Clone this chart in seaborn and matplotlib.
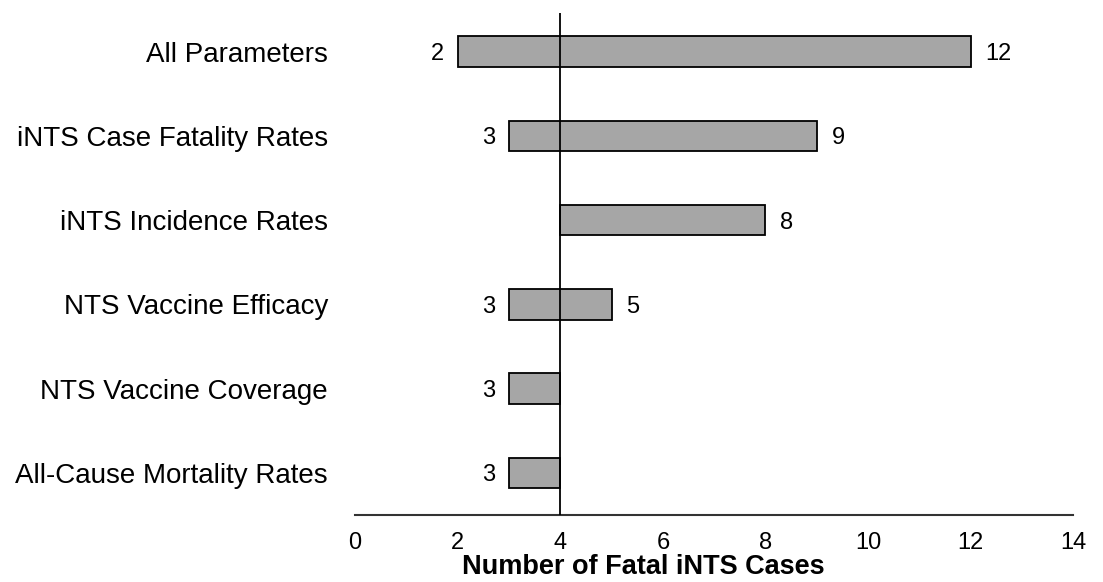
import numpy as np
import pandas as pd
import matplotlib
matplotlib.use("Agg")
import matplotlib.pyplot as plt
import seaborn as sns

# data (number of fatal iNTS cases)
parameters = ["All Parameters", "iNTS Case Fatality Rates", "iNTS Incidence Rates",
              "NTS Vaccine Efficacy", "NTS Vaccine Coverage", "All-Cause Mortality Rates"]
low_values = [2, 3, 4, 3, 3, 3]
high_values = [12, 9, 8, 5, 4, 4]
base_value = 4

sns.set_theme(style="white")
plt.rcParams['font.family'] = ['Liberation Sans', 'DejaVu Sans']
for key in ['text.color', 'axes.labelcolor', 'xtick.color', 'ytick.color']:
    plt.rcParams[key] = 'black'

df = pd.DataFrame({'parameter': parameters, 'low': low_values, 'high': high_values})
df['span'] = df['high'] - df['low']

fig = plt.figure(figsize=(11.03, 5.82), dpi=100)
ax = fig.add_axes([0.322, 0.115, 0.651, 0.863])

sns.barplot(data=df, x='span', y='parameter', orient='h', color='#a6a6a6',
            saturation=1, edgecolor='black', linewidth=1.3, width=0.36, ax=ax)

# shift each bar so it starts at its low value
for patch, lo in zip(ax.patches, df['low']):
    patch.set_x(lo)

ax.axvline(base_value, color='black', linewidth=1.3, zorder=5)

for i, row in df.iterrows():
    if row['low'] < base_value:
        ax.text(row['low'] - 0.27, i, f"{row['low']:g}", ha='right',
                va='center_baseline', fontsize=17)
    if row['high'] > base_value:
        ax.text(row['high'] + 0.29, i, f"{row['high']:g}", ha='left',
                va='center_baseline', fontsize=17)

ax.set_xlim(0, 14)
ax.set_ylim(5.5, -0.46)
ax.set_xticks(range(0, 15, 2))
ax.set_ylabel('')
ax.set_xlabel('Number of Fatal iNTS Cases', fontsize=19.5, fontweight='bold')
ax.xaxis.set_label_coords(0.401, -0.078)
ax.tick_params(axis='x', length=0, labelsize=17, pad=12)
ax.tick_params(axis='y', length=0, labelsize=20, pad=19.5)
for s in ['top', 'right', 'left']:
    ax.spines[s].set_visible(False)
ax.spines['bottom'].set_linewidth(1.5)
ax.spines['bottom'].set_color('#333333')

fig.savefig('out.png', dpi=100)
